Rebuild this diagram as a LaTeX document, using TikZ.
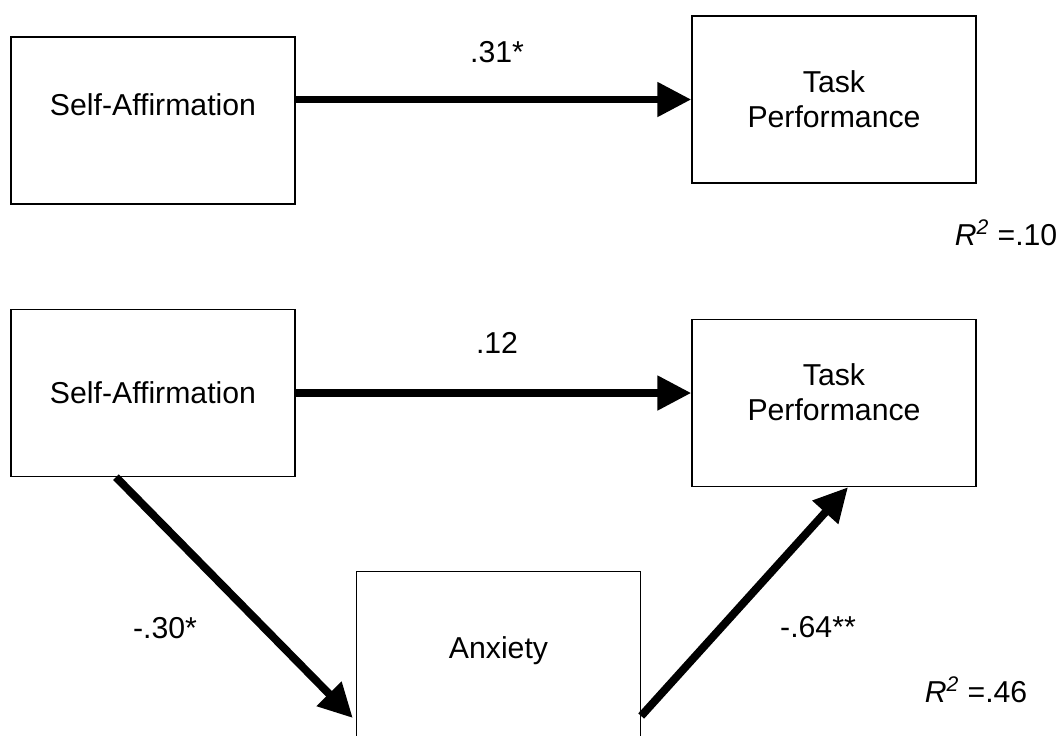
\documentclass[tikz,border=0pt]{standalone}
\usepackage{fontspec}
\setmainfont{Liberation Sans}
\usetikzlibrary{arrows.meta,calc}
\newcommand{\upby}[2]{\raisebox{#1}[\height][\depth]{#2}}

\begin{document}
\begin{tikzpicture}[
    x=0.02cm, y=-0.02cm,
    font=\fontsize{17.2}{19.9}\selectfont,
    var/.style={draw, line width=0.8pt, minimum width=5.68cm, minimum height=3.34cm, align=center, inner sep=0pt},
    effect/.style={-{Triangle[length=0.68cm, width=0.66cm]}, line width=4.5pt},
    coef/.style={inner sep=0pt}
]
\useasboundingbox (0,0) rectangle (1058,735);

% total effect
\node[var] (sa1) at (153,120.5) {\upby{0.31cm}{Self-Affirmation}};
\node[var] (tp1) at (834,99.5) {Task\\Performance};
\draw[effect] (sa1.east |- tp1) -- (tp1.west);
\node[coef] (c1) at (497,52) {.31*};
\node[coef] (r1) at (1006,233) {\textit{R}\textsuperscript{\textit{2}} =.10};

% mediated by anxiety
\node[var] (sa2) at (153,393) {Self-Affirmation};
\node[var] (tp2) at (834,403) {\upby{0.21cm}{Task}\\\upby{0.21cm}{Performance}};
\node[var] (anx) at (498.5,655) {\upby{0.09cm}{Anxiety}};
\draw[effect] (sa2.east) -- (tp2.west |- sa2);
\draw[effect] ($(sa2.south)+(-37,0)$) -- ($(anx.west)+(-3,63)$);
\draw[effect] ($(anx.east)+(0,61)$) -- ($(tp2.south)+(14,0)$);
\node[coef] (c2) at (497,343) {.12};
\node[coef] (c3) at (165,628) {-.30*};
\node[coef] (c4) at (818,627) {-.64**};
\node[coef] (r2) at (976,690) {\textit{R}\textsuperscript{\textit{2}} =.46};
\end{tikzpicture}
\end{document}
